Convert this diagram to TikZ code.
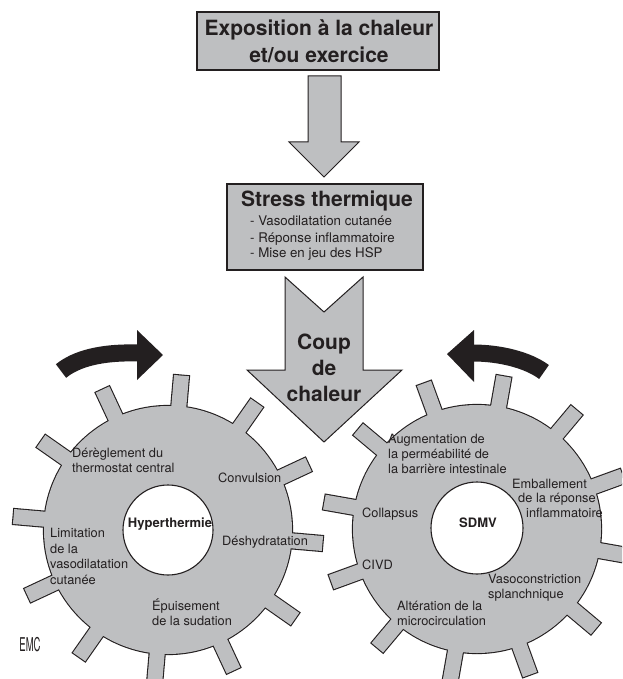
\documentclass[tikz,border=0pt]{standalone}
\usepackage{fontspec}
\setmainfont{TeX Gyre Heros}
\definecolor{gfill}{RGB}{190,191,193}
\definecolor{ink}{RGB}{35,31,32}
\tikzset{
  shapebox/.style={draw=ink, line width=1.2pt, fill=gfill},
  gearline/.style={draw=ink, line width=2.2pt},
  gearbody/.style={fill=gfill},
  holestyle/.style={draw=ink, line width=1.1pt, fill=white, circle, inner sep=0pt},
  lbl/.style={anchor=base west, inner sep=0pt, text=ink, font=\fontsize{12.8}{15}\selectfont},
  hlbl/.style={anchor=base, inner sep=0pt, text=ink, font=\fontsize{13}{15}\selectfont\bfseries},
  titlelbl/.style={anchor=base, inner sep=0pt, text=ink, font=\fontsize{21}{26}\selectfont\bfseries},
  itemlbl/.style={anchor=base west, inner sep=0pt, text=ink, font=\fontsize{13.3}{16}\selectfont},
  curvearrow/.style={draw=ink, line width=17pt},
  headfill/.style={fill=ink},
}
\begin{document}
\begin{tikzpicture}[x=1pt,y=1pt]
\useasboundingbox (0,0) rectangle (622,-679);
\clip (0,0) rectangle (622,-679);

% ---------- left gear ----------
\begin{scope}[shift={(168,-530)}]
  \draw[gearline] (0,0) circle[radius=124];
  \foreach \a in {85,115,...,415}
    \draw[gearline, rotate=\a] (105,-7.5) rectangle (155,7.5);
  \fill[gearbody] (0,0) circle[radius=124];
  \foreach \a in {85,115,...,415}
    \fill[gearbody, rotate=\a] (105,-7.5) rectangle (155,7.5);
\end{scope}
\node[holestyle, minimum size=90pt] (hole1) at (168,-530) {};
\node[hlbl] (hyper) at (170,-527) {Hyperthermie};

% ---------- right gear ----------
\begin{scope}[shift={(477,-529)}]
  \draw[gearline] (0,0) circle[radius=124];
  \foreach \a in {80,110,...,410}
    \draw[gearline, rotate=\a] (105,-7.5) rectangle (155,7.5);
  \fill[gearbody] (0,0) circle[radius=124];
  \foreach \a in {80,110,...,410}
    \fill[gearbody, rotate=\a] (105,-7.5) rectangle (155,7.5);
\end{scope}
\node[holestyle, minimum size=92pt] (hole2) at (477,-528) {};
\node[hlbl] (sdmv) at (478,-527) {SDMV};

% ---------- left gear labels ----------
\node[lbl] (d1) at (72,-457) {Dérèglement du};
\node[lbl] (d2) at (72,-472) {thermostat central};
\node[lbl] (cv) at (218,-482) {Convulsion};
\node[lbl] (dh) at (222,-545) {Déshydratation};
\node[lbl] (li1) at (50,-537) {Limitation};
\node[lbl] (li2) at (50,-553) {de la};
\node[lbl] (li3) at (50,-568) {vasodilatation};
\node[lbl] (li4) at (50,-584) {cutanée};
\node[lbl] (ep1) at (152,-610) {Épuisement};
\node[lbl] (ep2) at (152,-625) {de la sudation};

% ---------- right gear labels ----------
\node[lbl] (au1) at (388,-443) {Augmentation de};
\node[lbl] (au2) at (388,-458) {la perméabilité de};
\node[lbl] (au3) at (388,-473) {la barrière intestinale};
\node[lbl] (em1) at (512,-488) {Emballement};
\node[lbl] (em2) at (518,-502) {de la réponse};
\node[lbl] (em3) at (526,-517) {inflammatoire};
\node[lbl] (co) at (362,-517) {Collapsus};
\node[lbl] (ci) at (362,-569) {CIVD};
\node[lbl] (va1) at (488,-583) {Vasoconstriction};
\node[lbl] (va2) at (488,-598) {splanchnique};
\node[lbl] (al1) at (397,-610) {Altération de la};
\node[lbl] (al2) at (397,-625) {microcirculation};

% ---------- EMC logo ----------
\node[inner sep=0pt, text=ink] (emc) at (30,-645) {\scalebox{0.5}[1]{\fontsize{19}{19}\selectfont EMC}};

% ---------- top box ----------
\node[shapebox, minimum width=242pt, minimum height=58pt, inner sep=0pt] (expo) at (318,-41) {};
\node[titlelbl] (expo1) at (319,-36) {Exposition à la chaleur};
\node[titlelbl] (expo2) at (319,-63) {et/ou exercice};

% ---------- first block arrow ----------
\draw[shapebox, line width=1pt] (308,-76) -- (341,-76) -- (341,-142) -- (359,-142)
   -- (324,-177) -- (289,-142) -- (308,-142) -- cycle;

% ---------- stress box ----------
\node[shapebox, minimum width=196pt, minimum height=86pt, inner sep=0pt] (stress) at (325,-227) {};
\node[titlelbl] (st0) at (327,-206) {Stress thermique};
\node[itemlbl] (st1) at (250,-225) {- Vasodilatation cutanée};
\node[itemlbl] (st2) at (250,-242) {- Réponse inflammatoire};
\node[itemlbl] (st3) at (250,-257) {- Mise en jeu des HSP};

% ---------- big arrow ----------
\draw[shapebox, line width=1pt] (285,-277) -- (324,-312) -- (363,-277) -- (363,-370)
   -- (402,-370) -- (324,-442) -- (247,-370) -- (285,-370) -- cycle;
\node[titlelbl] (cp1) at (324,-349) {Coup};
\node[titlelbl] (cp2) at (324,-375) {de};
\node[titlelbl] (cp3) at (324,-401) {chaleur};

% ---------- curved black arrows ----------
\coordinate (la0) at (61,-371);
\coordinate (la1) at (138,-353);
\draw[curvearrow] (la0) .. controls (76,-359) and (100,-352) .. (la1);
\fill[headfill] (137,-330) -- (163,-355) -- (137,-380) -- cycle;

\coordinate (ra0) at (544,-372);
\coordinate (ra1) at (473,-353);
\draw[curvearrow] (ra0) .. controls (528,-360) and (500,-353) .. (ra1);
\fill[headfill] (474,-330) -- (447,-354) -- (474,-382) -- cycle;
\end{tikzpicture}
\end{document}
